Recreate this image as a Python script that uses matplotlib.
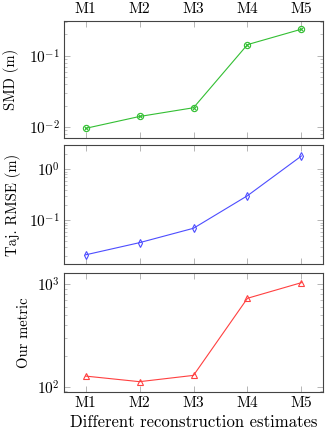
import matplotlib
matplotlib.use("Agg")
import matplotlib.pyplot as plt
import numpy as np
from matplotlib.ticker import LogLocator, NullFormatter

plt.rcParams['font.family'] = 'serif'
plt.rcParams['font.serif'] = ['cmr10', 'DejaVu Serif']
plt.rcParams['mathtext.fontset'] = 'cm'
plt.rcParams['axes.formatter.use_mathtext'] = True
plt.rcParams['axes.unicode_minus'] = False

methods = ["M1", "M2", "M3", "M4", "M5"]
smd = [0.0096, 0.0141, 0.0187, 0.144, 0.237]
rmse = [0.021, 0.0364, 0.0697, 0.303, 1.82]
metric = [127, 112, 129, 730, 1037]

x = np.arange(len(methods))
fig = plt.figure(figsize=(3.25, 4.34), dpi=100)
W, H = 325, 434
left, right = 64, 323
boxes = [(20.5, 137.7), (145.3, 264.3), (273.3, 391.7)]
axes = []
for (t, b) in boxes:
    ax = fig.add_axes([left / W, 1 - b / H, (right - left) / W, (b - t) / H])
    axes.append(ax)

green = (0.2, 0.75, 0.2)
blue = (0.3, 0.3, 1.0)
red = (1.0, 0.25, 0.25)

ax1, ax2, ax3 = axes
ax1.plot(x, smd, color=green, lw=0.8, marker='o', ms=4.5, mfc='none', mew=0.8)
ax1.plot(x, smd, ls='none', color=green, marker='x', ms=3.2, mew=0.8)
ax2.plot(x, rmse, color=blue, lw=0.8, marker='d', ms=4.2, mfc='none', mew=0.8)
ax3.plot(x, metric, color=red, lw=0.8, marker='^', ms=4.5, mfc='none', mew=0.8)

ax1.set_ylim(0.0071, 0.314)
ax2.set_ylim(0.0137, 2.95)
ax3.set_ylim(89.4, 1280)

for ax in axes:
    ax.set_yscale('log')
    ax.set_xlim(-0.4, 4.4)
    ax.set_xticks(x)
    ax.yaxis.set_major_locator(LogLocator(base=10, numticks=10))
    ax.yaxis.set_minor_locator(LogLocator(base=10, subs=np.arange(2, 10), numticks=10))
    ax.yaxis.set_minor_formatter(NullFormatter())
    ax.tick_params(which='both', direction='in', top=True, right=True,
                   color='#aaaaaa', labelsize=11, pad=3)
    ax.tick_params(which='major', length=4, width=0.6)
    ax.tick_params(which='minor', length=2.5, width=0.5)
    for s in ax.spines.values():
        s.set_color('#444444')
        s.set_linewidth(0.8)

ax1.set_xticklabels(methods)
ax1.tick_params(axis='x', labeltop=True, labelbottom=False)
ax2.tick_params(axis='x', labeltop=False, labelbottom=False)
ax3.set_xticklabels(methods)
ax3.set_xlabel("Different reconstruction estimates", fontsize=12)

ax1.set_ylabel("SMD (m)", fontsize=10.5)
ax2.set_ylabel("Taj. RMSE (m)", fontsize=10.5)
ax3.set_ylabel("Our metric", fontsize=10.5)
ax1.yaxis.set_label_coords(-0.175, 0.5)
ax2.yaxis.set_label_coords(-0.167, 0.5)
ax3.yaxis.set_label_coords(-0.128, 0.5)

fig.savefig("out.png", dpi=100)
